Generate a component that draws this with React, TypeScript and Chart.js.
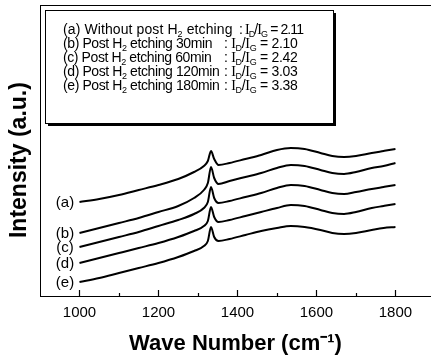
import React, { useEffect, useRef } from 'react';
import { Chart, registerables } from 'chart.js';

Chart.register(...registerables);

const wavenumbers = [1000, 1050, 1100, 1150, 1200, 1250, 1290, 1315, 1325, 1333, 1341, 1352, 1380, 1420, 1460, 1500, 1535, 1570, 1610, 1640, 1670, 1700, 1740, 1770, 1800];
const seriesA = [94, 97, 101, 106, 111, 117, 124, 130, 135, 145, 137, 131, 133, 137, 141, 146, 148, 147, 143, 140, 139, 140, 143, 145, 147];
const seriesB = [63, 68, 73, 78, 84, 90, 98, 106, 113, 129, 118, 112, 115, 119, 123, 128, 131, 130, 126, 123, 122, 124, 128, 130, 133];
const seriesC = [49, 54, 59, 64, 70, 76, 82, 88, 94, 109, 98, 93, 95, 99, 103, 108, 111, 110, 106, 103, 102, 104, 107, 109, 111];
const seriesD = [33, 38, 43, 48, 53, 59, 65, 70, 75, 89, 79, 74, 76, 80, 84, 88, 91, 90, 86, 83, 82, 84, 88, 90, 92];
const seriesE = [14, 18, 23, 28, 33, 39, 45, 50, 55, 69, 59, 55, 57, 61, 65, 68, 70, 69, 66, 63, 62, 63, 66, 68, 69];

const curveLabels = ['(a)', '(b)', '(c)', '(d)', '(e)'];
const legendPrefix = ['(a) Without post H', '(b) Post H', '(c) Post H', '(d) Post H', '(e) Post H'];
const legendSuffix = [' etching', ' etching 30min', ' etching 60min', ' etching 120min', ' etching 180min'];
const ratios = ['2.11', '2.10', '2.42', '3.03', '3.38'];
const majorTicks = [1000, 1200, 1400, 1600, 1800];
const minorTicks = [1100, 1300, 1500, 1700];

const SANS = '"Liberation Sans", Arial, Helvetica, sans-serif';
const SERIF = '"Liberation Serif", "Times New Roman", serif';

type Seg = { t: string; sub?: boolean; serif?: boolean };

function drawRich(ctx: CanvasRenderingContext2D, x: number, y: number, segs: Seg[], size: number) {
  let cx = x;
  for (const s of segs) {
    const fs = s.sub ? Math.round(size * 0.62) : size;
    ctx.font = `${fs}px ${s.serif ? SERIF : SANS}`;
    ctx.fillText(s.t, cx, s.sub ? y + 3 : y);
    cx += ctx.measureText(s.t).width;
  }
}

const decorPlugin = {
  id: 'decor',
  afterDraw(chart: any) {
    const { ctx, chartArea, scales } = chart;
    const xs = scales.x;
    const ys = scales.y;
    ctx.save();
    ctx.strokeStyle = '#000';
    ctx.fillStyle = '#000';
    ctx.lineWidth = 1;
    // top frame line
    ctx.beginPath();
    ctx.moveTo(chartArea.left, chartArea.top + 0.5);
    ctx.lineTo(chartArea.right, chartArea.top + 0.5);
    ctx.stroke();
    // ticks (inward)
    ctx.lineWidth = 1.2;
    for (const v of majorTicks) {
      const px = Math.round(xs.getPixelForValue(v)) + 0.5;
      ctx.beginPath();
      ctx.moveTo(px, chartArea.bottom);
      ctx.lineTo(px, chartArea.bottom - 6);
      ctx.stroke();
    }
    for (const v of minorTicks) {
      const px = Math.round(xs.getPixelForValue(v)) + 0.5;
      ctx.beginPath();
      ctx.moveTo(px, chartArea.bottom);
      ctx.lineTo(px, chartArea.bottom - 3);
      ctx.stroke();
    }
    // legend box with shadow
    const bx = 45, by = 10, bw = 288, bh = 113;
    ctx.fillStyle = '#000';
    ctx.fillRect(bx + 3, by + 3, bw, bh);
    ctx.fillStyle = '#fff';
    ctx.fillRect(bx, by, bw, bh);
    ctx.lineWidth = 1;
    ctx.strokeStyle = '#000';
    ctx.strokeRect(bx + 0.5, by + 0.5, bw, bh);
    ctx.fillStyle = '#000';
    ctx.textBaseline = 'alphabetic';
    ctx.textAlign = 'left';
    for (let i = 0; i < 5; i++) {
      const y = 34 + i * 14;
      (ctx as any).letterSpacing = i === 0 ? '0.1px' : '-0.4px';
      drawRich(ctx, 63, y, [{ t: legendPrefix[i] }, { t: '2', sub: true }, { t: legendSuffix[i] }], 14);
      const cx = i === 0 ? 239 : 224;
      (ctx as any).letterSpacing = i === 0 ? '-0.9px' : '-0.3px';
      drawRich(ctx, cx, y, [
        { t: ': ' },
        { t: 'I', serif: true },
        { t: 'D', sub: true },
        { t: '/' },
        { t: 'I', serif: true },
        { t: 'G', sub: true },
        { t: ' = ' + ratios[i] },
      ], 14);
    }
    (ctx as any).letterSpacing = '0px';
    // curve labels
    const all = [seriesA, seriesB, seriesC, seriesD, seriesE];
    ctx.font = `15px ${SANS}`;
    ctx.textAlign = 'center';
    ctx.textBaseline = 'middle';
    for (let i = 0; i < 5; i++) {
      const py = ys.getPixelForValue(all[i][0]);
      ctx.fillText(curveLabels[i], 65, py + 1);
    }
    ctx.restore();
  },
};

export default function App() {
  const ref = useRef<HTMLCanvasElement | null>(null);
  useEffect(() => {
    if (!ref.current) return;
    const mk = (vals: number[], label: string) => ({
      label,
      data: wavenumbers.map((w, i) => ({ x: w, y: vals[i] })),
      borderColor: '#000',
      borderWidth: 2,
      pointRadius: 0,
      fill: false,
      cubicInterpolationMode: 'monotone' as const,
    });
    const chart = new Chart(ref.current, {
      type: 'line',
      data: {
        datasets: [
          mk(seriesA, '(a)'),
          mk(seriesB, '(b)'),
          mk(seriesC, '(c)'),
          mk(seriesD, '(d)'),
          mk(seriesE, '(e)'),
        ],
      },
      options: {
        responsive: false,
        animation: false,
        layout: { padding: { top: 5, left: 0, right: 0, bottom: 0 } },
        plugins: { legend: { display: false }, tooltip: { enabled: false } },
        scales: {
          x: {
            type: 'linear',
            min: 900,
            max: 1890,
            afterBuildTicks: (s: any) => {
              s.ticks = majorTicks.map((v) => ({ value: v }));
            },
            afterFit: (s: any) => {
              s.height = 63;
            },
            ticks: {
              font: { family: SANS, size: 15 },
              color: '#000',
              padding: 8,
              maxRotation: 0,
              autoSkip: false,
              callback: (v: any) => String(v),
            },
            grid: { display: false, drawTicks: false },
            border: { display: true, color: '#000', width: 1 },
            title: {
              display: true,
              text: 'Wave Number (cm⁻¹)',
              color: '#000',
              font: { family: SANS, size: 22, weight: 'bold' },
              padding: { top: 0, bottom: 2 },
            },
          },
          y: {
            min: 0,
            max: 291,
            afterFit: (s: any) => {
              s.width = 40;
            },
            ticks: { display: false },
            grid: { display: false, drawTicks: false },
            border: { display: true, color: '#000', width: 1 },
            title: {
              display: true,
              text: 'Intensity (a.u.)   ',
              color: '#000',
              font: { family: SANS, size: 23, weight: 'bold' },
              padding: { top: 6, bottom: 0 },
            },
          },
        },
      },
      plugins: [decorPlugin],
    });
    return () => chart.destroy();
  }, []);
  return (
    <canvas
      ref={ref}
      width={431}
      height={359}
      style={{ position: 'absolute', left: 0, top: 0, width: 431, height: 359 }}
    />
  );
}
